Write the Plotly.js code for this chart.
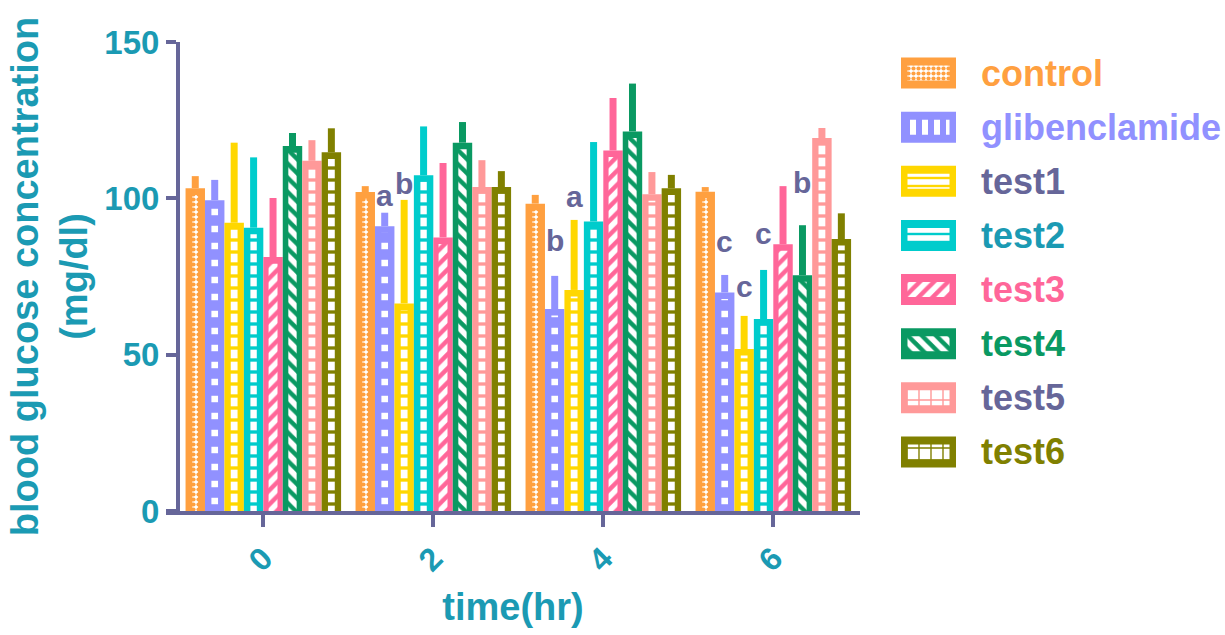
<!DOCTYPE html>
<html>
<head>
<meta charset="utf-8">
<script src="https://cdn.plot.ly/plotly-3.0.1.min.js"></script>
<style>html,body{margin:0;padding:0;background:#fff;}#chart{width:1225px;height:635px;}</style>
</head>
<body>
<div id="chart"></div>
<script>
// ---- data ----
const timePoints = [0, 2, 4, 6];
const timeLabels = ['0', '2', '4', '6'];
const seriesNames = ['control', 'glibenclamide', 'test1', 'test2', 'test3', 'test4', 'test5', 'test6'];

const controlMean = [103.2, 102.0, 98.3, 102.1];
const controlSD   = [3.9, 1.9, 2.8, 1.5];
const glibMean    = [99.4, 91.1, 64.6, 69.9];
const glibSD      = [6.5, 4.3, 10.6, 5.6];
const test1Mean   = [92.2, 66.4, 70.7, 51.8];
const test1SD     = [25.6, 33.1, 22.4, 10.6];
const test2Mean   = [90.6, 107.4, 92.6, 61.4];
const test2SD     = [22.5, 15.6, 25.4, 15.7];
const test3Mean   = [81.2, 87.5, 115.3, 85.3];
const test3SD     = [18.9, 23.8, 16.8, 18.6];
const test4Mean   = [116.7, 117.8, 121.4, 75.4];
const test4SD     = [4.2, 6.6, 15.3, 16.0];
const test5Mean   = [112.0, 103.6, 101.3, 119.3];
const test5SD     = [6.6, 8.6, 7.1, 3.2];
const test6Mean   = [114.7, 103.6, 103.2, 87.0];
const test6SD     = [7.7, 5.1, 4.3, 8.2];

// significance letters: time point, series index, letter, and height (mg/dl)
const letterTime   = [2, 2, 4, 4, 6, 6, 6, 6];
const letterSeries = [1, 2, 1, 2, 1, 2, 3, 5];
const letterText   = ['a', 'b', 'b', 'a', 'c', 'c', 'c', 'b'];
const letterY      = [100.8, 104.8, 86.4, 100.5, 86.1, 71.7, 88.7, 105.0];

const means = [controlMean, glibMean, test1Mean, test2Mean, test3Mean, test4Mean, test5Mean, test6Mean];
const sds   = [controlSD, glibSD, test1SD, test2SD, test3SD, test4SD, test5SD, test6SD];

// ---- styles ----
const colors = ['#ffa040', '#9191ff', '#ffd700', '#00cccc', '#ff6699', '#0a9962', '#ff9999', '#808000'];
const labelColors = ['#ffa040', '#9191ff', '#666699', '#1b9ab3', '#ff6699', '#0a9962', '#666699', '#808000'];
const mainShapes = ['.', '-', '-', '-', '/', '\\', '-', '-'];
const mainSizes = [5, 17, 12, 12, 10, 10, 12, 12];
const mainSolid = [0.55, 0.62, 0.28, 0.28, 0.45, 0.45, 0.28, 0.28];
const innerWidths = [0.066, 0.078, 0.08, 0.075, 0.105, 0.098, 0.08, 0.08];
const legShapes = ['.', '|', '-', '-', '/', '\\', '+', '+'];
const legSizes = [5, 12, 8, 8, 10, 10, 12, 12];
const legSolid = [0.55, 0.5, 0.3, 0.3, 0.45, 0.45, 0.22, 0.22];

const axisColor = '#666699';
const teal = '#1b9ab3';
const FONT = 'Liberation Sans, Arial, Helvetica, sans-serif';
const bargap = 0.085;
const topInset = 2.1; // data units (~6.5px) for the coloured rim at the bar top

const W = 1225, H = 635;
const plotL = 166, plotR = 860, plotT = 42, plotB = 511;

const traces = [];
// solid coloured bars with error bars
seriesNames.forEach((name, i) => {
  traces.push({
    type: 'bar', name: name, x: timePoints, y: means[i],
    offsetgroup: 'g' + i, xaxis: 'x', yaxis: 'y',
    marker: { color: colors[i], line: { width: 0 } },
    error_y: { type: 'data', symmetric: false, array: sds[i], arrayminus: sds[i].map(() => 0),
               color: colors[i], thickness: 7, width: 0 },
    showlegend: false, hoverinfo: 'skip'
  });
});
// inner patterned columns
seriesNames.forEach((name, i) => {
  traces.push({
    type: 'bar', name: name + ' pattern', x: timePoints, y: means[i].map(v => v - topInset),
    offsetgroup: 'g' + i, width: innerWidths[i], xaxis: 'x', yaxis: 'y',
    marker: { color: 'white', line: { width: 0 },
      pattern: { shape: mainShapes[i], fillmode: 'replace', bgcolor: 'white', fgcolor: colors[i],
                 size: mainSizes[i], solidity: mainSolid[i] } },
    showlegend: false, hoverinfo: 'skip'
  });
});
// legend swatches (second subplot)
traces.push({
  type: 'bar', orientation: 'h', y: seriesNames, x: seriesNames.map(() => 1),
  offsetgroup: 'L', width: 0.574, xaxis: 'x2', yaxis: 'y2',
  marker: { color: colors, line: { width: 0 } }, showlegend: false, hoverinfo: 'skip'
});
traces.push({
  type: 'bar', orientation: 'h', y: seriesNames, x: seriesNames.map(() => 0.764), base: 0.118,
  offsetgroup: 'L', width: 0.278, xaxis: 'x2', yaxis: 'y2',
  marker: { color: 'white', line: { width: 0 },
    pattern: { shape: legShapes, fillmode: 'replace', bgcolor: 'white', fgcolor: colors,
               size: legSizes, solidity: legSolid } },
  showlegend: false, hoverinfo: 'skip'
});

// group geometry for letter annotations
const groupWidth = 2 * (1 - bargap);
const slot = groupWidth / seriesNames.length;
const annotations = letterText.map((t, k) => {
  const s = letterSeries[k];
  return {
    xref: 'x', yref: 'y', x: letterTime[k] - groupWidth / 2 + slot * (s + 0.5),
    y: letterY[k], yanchor: 'middle', showarrow: false,
    text: t, font: { family: FONT, size: 30, weight: 'bold', color: '#666699' }
  };
});
seriesNames.forEach((name, i) => {
  annotations.push({
    xref: 'paper', yref: 'y2', x: 979 / W, y: name, xanchor: 'left', yanchor: 'middle',
    showarrow: false, text: name,
    font: { family: FONT, size: 36, weight: 'bold', color: labelColors[i] }
  });
});

const layout = {
  width: W, height: H,
  margin: { l: 0, r: 0, t: 0, b: 0, pad: 0 },
  paper_bgcolor: 'white', plot_bgcolor: 'white',
  barmode: 'group', bargap: bargap, bargroupgap: 0,
  showlegend: false, hovermode: false,
  font: { family: FONT, color: teal },
  xaxis: {
    domain: [plotL / W, plotR / W], anchor: 'y',
    range: [-1.145, 7.02], tickvals: timePoints, ticktext: timeLabels,
    showline: true, linecolor: axisColor, linewidth: 4,
    ticks: 'outside', ticklen: 12, tickwidth: 4, tickcolor: axisColor,
    tickangle: -45, tickfont: { family: FONT, size: 32, weight: 'bold', color: teal },
    showgrid: false, zeroline: false, automargin: false,
    title: { text: 'time(hr)', standoff: 17, font: { family: FONT, size: 38, weight: 'bold', color: teal } }
  },
  yaxis: {
    domain: [1 - plotB / H, 1 - plotT / H], anchor: 'free', position: 178 / W,
    range: [0, 150], tickvals: [0, 50, 100, 150],
    showline: true, linecolor: axisColor, linewidth: 4,
    ticks: 'outside', ticklen: 10, tickwidth: 4, tickcolor: axisColor,
    tickfont: { family: FONT, size: 33, weight: 'bold', color: teal },
    showgrid: false, zeroline: false, automargin: false,
    title: { text: 'blood glucose concentration<br>(mg/dl)', standoff: 4,
             font: { family: FONT, size: 38, weight: 'bold', color: teal } }
  },
  xaxis2: { domain: [901 / W, 956 / W], anchor: 'y2', range: [0, 1], visible: false, fixedrange: true },
  yaxis2: { domain: [1 - 479 / H, 1 - 46 / H], anchor: 'x2', type: 'category',
            categoryorder: 'array', categoryarray: seriesNames, autorange: 'reversed', visible: false },
  annotations: annotations
};

Plotly.newPlot('chart', traces, layout, { displayModeBar: false, staticPlot: true });
</script>
</body>
</html>
